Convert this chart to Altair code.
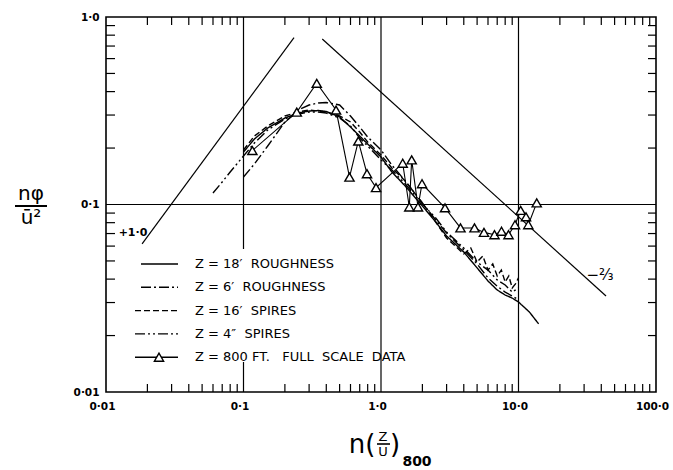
import altair as alt
import pandas as pd

# ---------------- data ----------------
X_COMMON = [0.1, 0.12, 0.15, 0.2, 0.25, 0.3, 0.35, 0.4, 0.5, 0.6, 0.7, 0.8, 1.0,
            1.2, 1.5, 2, 2.5, 3, 4, 5, 6, 7, 8, 9, 10]

# Z = 18' roughness (solid)
R18_X = X_COMMON + [12, 14]
R18_Y = [0.1905, 0.2235, 0.2559, 0.2893, 0.3076, 0.3152, 0.3172, 0.3133, 0.2929,
         0.259, 0.2318, 0.2102, 0.1792, 0.149, 0.1255, 0.0982, 0.0807, 0.0679,
         0.0558, 0.0459, 0.0391, 0.035, 0.0329, 0.0317, 0.0302, 0.0267, 0.0231]

# Z = 6' roughness (dash-dot)
R6_X = X_COMMON
R6_Y = [0.1402, 0.1644, 0.2051, 0.2754, 0.3192, 0.3394, 0.3477, 0.35, 0.3394,
        0.2965, 0.259, 0.2291, 0.1953, 0.1624, 0.1335, 0.1019, 0.0827, 0.0705,
        0.0572, 0.0482, 0.0406, 0.0367, 0.0341, 0.0325, 0.031]

# Z = 16' spires (dashed)
S16_X = [0.1, 0.12, 0.15, 0.2, 0.25, 0.3, 0.35, 0.4, 0.5, 0.6, 0.7, 0.8, 1.0, 1.2,
         1.5, 2, 2.5, 3, 4, 4.5, 5, 5.5, 6, 6.5, 7, 7.5, 8, 8.5, 9, 9.5, 10]
S16_Y = [0.1953, 0.2318, 0.2622, 0.2965, 0.3114, 0.3192, 0.3152, 0.3114, 0.2965,
         0.2754, 0.2435, 0.2154, 0.1837, 0.1565, 0.1335, 0.1019, 0.0807, 0.0663,
         0.0545, 0.0586, 0.0493, 0.0531, 0.0447, 0.0482, 0.0416, 0.0447, 0.0386,
         0.0416, 0.0359, 0.0377, 0.0406]

# Z = 4" spires (dash-dot-dot)
S4_X = [0.06, 0.07, 0.08] + X_COMMON
S4_Y = [0.1151, 0.1318, 0.149, 0.1815, 0.2128, 0.2496, 0.2858, 0.3039, 0.3114,
        0.3114, 0.3076, 0.2893, 0.2622, 0.2263, 0.2051, 0.1727, 0.1528, 0.1286,
        0.1006, 0.0847, 0.0713, 0.0586, 0.0493, 0.0447, 0.0396, 0.0372, 0.0341,
        0.0359]

# Z = 800 ft full scale data (triangles)
FS_X = [0.116, 0.244, 0.341, 0.471, 0.590, 0.684, 0.791, 0.920, 1.438, 1.606,
        1.672, 1.858, 1.987, 2.921, 3.786, 4.786, 5.61, 6.69, 7.52, 8.46, 9.43,
        10.37, 11.34, 11.79, 13.57]
FS_Y = [0.194, 0.311, 0.443, 0.319, 0.140, 0.218, 0.146, 0.123, 0.166, 0.097,
        0.173, 0.097, 0.129, 0.096, 0.075, 0.075, 0.071, 0.069, 0.072, 0.069,
        0.078, 0.093, 0.086, 0.078, 0.102]

# reference slopes (+1 and -2/3)
SLOPE_P1_X = [0.0183, 0.233]
SLOPE_P1_Y = [0.0616, 0.776]
SLOPE_M23_X = [0.374, 43.3]
SLOPE_M23_Y = [0.763, 0.0325]

X_TICK_VALUES = [0.01, 0.1, 1, 10, 100]
X_TICK_LABELS = ["0·01", "0·1", "1·0", "10·0", "100·0"]
Y_TICK_VALUES = [0.01, 0.1, 1]
Y_TICK_LABELS = ["0·01", "0·1", "1·0"]
X_GRID = [0.1, 1, 10]
Y_GRID = [0.1]

NB = "\u00a0"
LEGEND_LABELS = [f"Z = 18′{NB}{NB}ROUGHNESS", f"Z = 6′{NB}{NB}ROUGHNESS",
                 f"Z = 16′{NB}{NB}SPIRES", f"Z = 4″{NB}{NB}SPIRES",
                 f"Z = 800 FT.{NB}{NB}{NB}FULL{NB}{NB}SCALE{NB}{NB}DATA"]

# ---------------- layout / style ----------------
W, H = 550, 375
FONT = "DejaVu Sans"
INK = "black"
DASHES = [[1, 0], [10, 3, 2, 3], [6, 3], [10, 3, 2, 3, 2, 3]]

minor_x = [m * 10.0 ** e for e in range(-2, 2) for m in range(2, 10)]
minor_y = [m * 10.0 ** e for e in range(-2, 0) for m in range(2, 10)]


def label_expr(values, labels):
    expr = "''"
    for v, l in reversed(list(zip(values, labels))):
        expr = f"abs(datum.value - {v}) < {v * 0.01} ? '{l}' : " + expr
    return expr


xs = alt.Scale(type="log", domain=[0.01, 100], nice=False)
ys = alt.Scale(type="log", domain=[0.01, 1], nice=False)
xaxis = alt.Axis(values=X_TICK_VALUES, labelExpr=label_expr(X_TICK_VALUES, X_TICK_LABELS),
                 title=None, grid=False, ticks=False, domain=False, labelFlush=False,
                 labelOverlap=False, labelPadding=9, labelFontSize=10.5, labelFont=FONT,
                 labelFontWeight="bold", labelColor=INK, labelOffset=-4)
yaxis = alt.Axis(values=Y_TICK_VALUES, labelExpr=label_expr(Y_TICK_VALUES, Y_TICK_LABELS),
                 title=None, grid=False, ticks=False, domain=False, labelFlush=False,
                 labelOverlap=False, labelPadding=7, labelFontSize=10.5, labelFont=FONT,
                 labelFontWeight="bold", labelColor=INK)


def X(f):
    return alt.X(f, type="quantitative", scale=xs, axis=xaxis)


def Y(f):
    return alt.Y(f, type="quantitative", scale=ys, axis=yaxis)


one = pd.DataFrame({"a": [0]})
layers = []

# grid lines at decades
layers.append(alt.Chart(pd.DataFrame({"x": X_GRID})).mark_rule(color=INK, strokeWidth=1.2)
              .encode(x=X("x")))
layers.append(alt.Chart(pd.DataFrame({"y": Y_GRID})).mark_rule(color=INK, strokeWidth=1.2)
              .encode(y=Y("y")))
# legend area erases the 0.1 grid line
layers.append(alt.Chart(one).mark_rect(color="white")
              .encode(x=alt.value(128), x2=alt.value(148), y=alt.value(232), y2=alt.value(345)))

# inward minor ticks on all four sides
dfx = pd.DataFrame({"x": minor_x})
dfy = pd.DataFrame({"y": minor_y})
layers.append(alt.Chart(dfx).mark_rule(color=INK, strokeWidth=1.2)
              .encode(x=X("x"), y=alt.value(H - 8), y2=alt.value(H)))
layers.append(alt.Chart(dfx).mark_rule(color=INK, strokeWidth=1.2)
              .encode(x=X("x"), y=alt.value(0), y2=alt.value(8)))
layers.append(alt.Chart(dfy).mark_rule(color=INK, strokeWidth=1.2)
              .encode(y=Y("y"), x=alt.value(0), x2=alt.value(9)))
layers.append(alt.Chart(dfy).mark_rule(color=INK, strokeWidth=1.2)
              .encode(y=Y("y"), x=alt.value(W - 8), x2=alt.value(W)))

# reference slopes
ref = pd.DataFrame({"x1": [SLOPE_P1_X[0], SLOPE_M23_X[0]], "x2": [SLOPE_P1_X[1], SLOPE_M23_X[1]],
                    "y1": [SLOPE_P1_Y[0], SLOPE_M23_Y[0]], "y2": [SLOPE_P1_Y[1], SLOPE_M23_Y[1]]})
layers.append(alt.Chart(ref).mark_rule(color=INK, strokeWidth=1.2)
              .encode(x=X("x1"), x2="x2:Q", y=Y("y1"), y2="y2:Q"))

# model curves
curves = [(R18_X, R18_Y), (R6_X, R6_Y), (S16_X, S16_Y), (S4_X, S4_Y)]
for (cx, cy), dash in zip(curves, DASHES):
    layers.append(alt.Chart(pd.DataFrame({"x": cx, "y": cy}))
                  .mark_line(color=INK, strokeWidth=1.4, strokeDash=dash)
                  .encode(x=X("x"), y=Y("y")))

# full scale data
fs = pd.DataFrame({"x": FS_X, "y": FS_Y})
layers.append(alt.Chart(fs).mark_line(color=INK, strokeWidth=1.1).encode(x=X("x"), y=Y("y")))
layers.append(alt.Chart(fs).mark_point(shape="triangle-up", size=85, filled=True, fill="white",
                                       stroke=INK, strokeWidth=1.4, opacity=1)
              .encode(x=X("x"), y=Y("y")))

# hand-drawn legend
ROW_Y = [247, 270.3, 293.6, 316.9, 340.2]
LINE_X0 = [35, 35, 29, 29, 29]
for i, lab in enumerate(LEGEND_LABELS):
    dash = DASHES[i] if i < 4 else [1, 0]
    layers.append(alt.Chart(one).mark_rule(color=INK, strokeWidth=1.4, strokeDash=dash)
                  .encode(x=alt.value(LINE_X0[i]), x2=alt.value(72), y=alt.value(ROW_Y[i])))
    layers.append(alt.Chart(pd.DataFrame({"t": [lab]}))
                  .mark_text(align="left", baseline="middle", font=FONT, fontSize=13, color=INK)
                  .encode(x=alt.value(89), y=alt.value(ROW_Y[i]), text="t:N"))
layers.append(alt.Chart(one).mark_point(shape="triangle-up", size=85, filled=True, fill="white",
                                        stroke=INK, strokeWidth=1.4, opacity=1)
              .encode(x=alt.value(53), y=alt.value(ROW_Y[4])))

# slope annotations
def txt(s, x, y, size, align="center", weight="normal"):
    return (alt.Chart(pd.DataFrame({"t": [s]}))
            .mark_text(align=align, baseline="middle", font=FONT, fontSize=size, color=INK,
                       fontWeight=weight)
            .encode(x=alt.value(x), y=alt.value(y), text="t:N"))

layers.append(txt("+1·0", 27, 216, 11, weight="bold"))
layers.append(txt("−⅔", 494, 258, 15))

# y-axis title: n phi over u-bar squared
layers.append(txt("nφ", -75, 177, 20))
layers.append(alt.Chart(one).mark_rule(color=INK, strokeWidth=2)
              .encode(x=alt.value(-91), x2=alt.value(-59), y=alt.value(189)))
layers.append(txt("ū²", -75, 201, 20))

# x-axis title: n (Z / U) 800
layers.append(txt("n(", 256, 428, 26))
layers.append(txt("Z", 277, 420, 13))
layers.append(alt.Chart(one).mark_rule(color=INK, strokeWidth=1.6)
              .encode(x=alt.value(271), x2=alt.value(284), y=alt.value(427)))
layers.append(txt("U", 277, 435, 13))
layers.append(txt(")", 289, 428, 26))
layers.append(txt("800", 311, 445, 14, weight="bold"))

chart = (alt.layer(*layers)
         .properties(width=W, height=H, autosize=alt.AutoSizeParams(type="none"),
                     padding={"left": 106, "top": 17, "right": 17, "bottom": 78},
                     background="white")
         .configure_view(stroke=INK, strokeWidth=1.6))

chart.save("out.html", embed_options={"renderer": "svg", "actions": False})
